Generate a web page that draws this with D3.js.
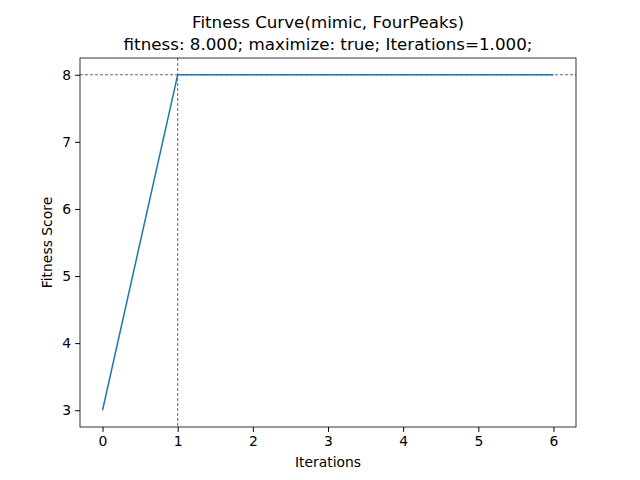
<!DOCTYPE html>
<html><head><meta charset="utf-8">
<script src="https://cdn.jsdelivr.net/npm/d3@7"></script>
<style>body{margin:0;background:#fff}text{font-family:"DejaVu Sans",sans-serif}</style>
</head><body><svg id="c" width="640" height="480"></svg>
<script>
const iterations=[0,1,2,3,4,5,6];
const fitness=[3,8,8,8,8,8,8];
const xTicks=[0,1,2,3,4,5,6];
const yTicks=[3,4,5,6,7,8];
const bestIter=1, bestFit=8;
const svg=d3.select("#c");
const L=80,R=576,T=58,B=427;
const x=d3.scaleLinear().domain([-0.3,6.3]).range([L,R]);
const y=d3.scaleLinear().domain([2.75,8.25]).range([B,T]);
svg.append("g").attr("transform",`translate(0,${B})`).call(d3.axisBottom(x).tickValues(xTicks).tickSize(4.9).tickPadding(4).tickFormat(d3.format("d")))
 .call(g=>{g.select(".domain").remove();g.selectAll("text").attr("font-size",13.9).attr("fill","#000");});
svg.append("g").attr("transform",`translate(${L},0)`).call(d3.axisLeft(y).tickValues(yTicks).tickSize(4.9).tickPadding(4).tickFormat(d3.format("d")))
 .call(g=>{g.select(".domain").remove();g.selectAll("text").attr("font-size",13.9).attr("fill","#000");});
svg.append("line").attr("x1",x(bestIter)).attr("x2",x(bestIter)).attr("y1",T).attr("y2",B).attr("stroke","#000").attr("stroke-width",0.6).attr("stroke-dasharray","3,2");
svg.append("line").attr("x1",L).attr("x2",R).attr("y1",y(bestFit)).attr("y2",y(bestFit)).attr("stroke","#000").attr("stroke-width",0.6).attr("stroke-dasharray","3,2");
svg.append("path").datum(iterations.map((d,i)=>[d,fitness[i]])).attr("fill","none").attr("stroke","#1f77b4").attr("stroke-width",1.5)
 .attr("d",d3.line().x(d=>x(d[0])).y(d=>y(d[1])));
svg.append("rect").attr("x",L).attr("y",T).attr("width",R-L).attr("height",B-T).attr("fill","none").attr("stroke","#000").attr("stroke-width",0.8);
svg.append("text").attr("x",(L+R)/2).attr("y",28).attr("text-anchor","middle").attr("font-size",16.7).text("Fitness Curve(mimic, FourPeaks)");
svg.append("text").attr("x",(L+R)/2).attr("y",50).attr("text-anchor","middle").attr("font-size",16.7).text("fitness: 8.000; maximize: true; Iterations=1.000;");
svg.append("text").attr("x",(L+R)/2).attr("y",467).attr("text-anchor","middle").attr("font-size",13.9).text("Iterations");
svg.append("text").attr("transform",`translate(52,${(T+B)/2}) rotate(-90)`).attr("text-anchor","middle").attr("font-size",13.9).text("Fitness Score");
</script></body></html>
